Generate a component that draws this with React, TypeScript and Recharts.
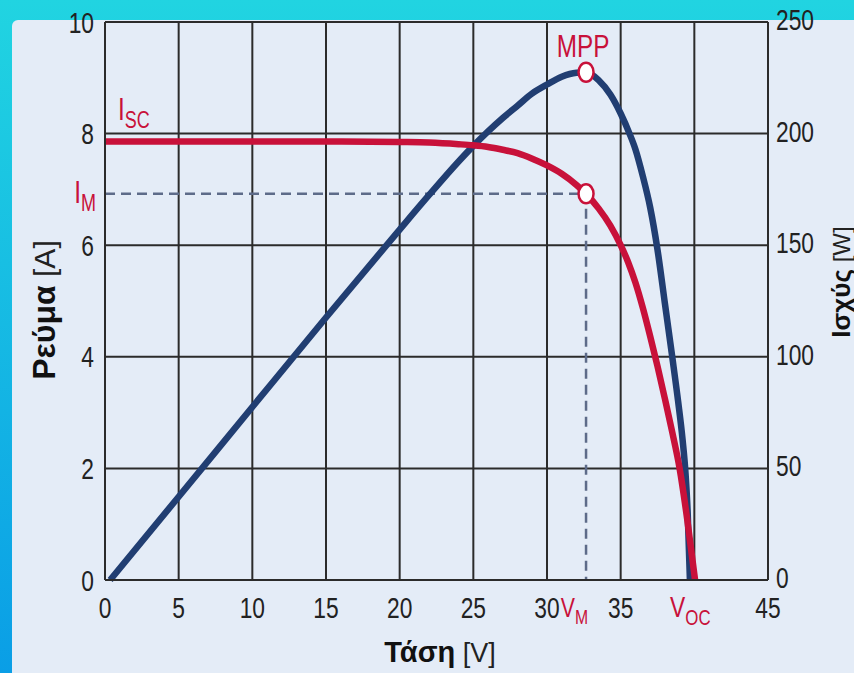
import { LineChart, Line, XAxis, YAxis, CartesianGrid, ReferenceDot } from "recharts";

// I-V curve (voltage in V, current in A)
const IV_VOLTS = [0, 5, 10, 15, 20, 22, 24, 25, 26, 27, 28, 29, 30, 31, 32, 32.65, 33.5, 34.3, 35, 35.5, 36, 36.5, 37, 37.5, 38, 38.5, 39, 39.5, 40.05];
const IV_AMPS = [7.86, 7.86, 7.86, 7.86, 7.85, 7.84, 7.81, 7.79, 7.76, 7.71, 7.65, 7.55, 7.43, 7.28, 7.08, 6.92, 6.66, 6.35, 6.0, 5.7, 5.33, 4.88, 4.37, 3.83, 3.25, 2.65, 2.0, 1.12, 0];

// P-V curve (voltage in V, power in W)
const PV_VOLTS = [0.35, 5, 10, 15, 20, 22, 24, 25, 26, 27, 28, 29, 30, 31, 32, 32.65, 33.5, 34.3, 35, 35.6, 36, 36.5, 37, 37.5, 38, 38.5, 38.9, 39.2, 39.4, 39.55, 39.7];
const PV_WATTS = [0, 37.3, 77.5, 117.6, 157, 172.5, 187.5, 194.5, 201, 207, 212.5, 218, 222, 225.5, 227.3, 227.5, 224, 217.5, 209, 200, 193, 181, 167, 148, 124, 100, 80, 63, 48, 30, 0];

const X_TICKS = [0, 5, 10, 15, 20, 25, 30, 35, 40, 45];
const X_HIDDEN = [40];
const I_TICKS = [0, 2, 4, 6, 8, 10];
const P_TICKS = [0, 50, 100, 150, 200, 250];

const V_MPP = 32.65;
const I_MPP = 6.92;
const P_MPP = 227.5;
const I_SC = 7.86;
const V_OC = 40.05;

const ivData = IV_VOLTS.map((v, k) => ({ v, i: IV_AMPS[k] }));
const pvData = PV_VOLTS.map((v, k) => ({ v, p: PV_WATTS[k] }));
const guideData = [
  { v: 0, i: I_MPP },
  { v: V_MPP, i: I_MPP },
  { v: V_MPP, i: 0 },
];

const RED = "#c8113a";
const NAVY = "#213e72";
const DASH = "#5d6b89";
const GRID = "#2b2b2b";
const SANS = "'Liberation Sans', Arial, sans-serif";
const SQUEEZE = 0.76;

// condensed-looking text: Liberation Sans squeezed horizontally
function Narrow(props: any) {
  const { x, y, anchor = "start", size = 30, fill = "#222", children } = props;
  return (
    <g transform={`translate(${x} ${y}) scale(${SQUEEZE} 1)`}>
      <text x={0} y={0} textAnchor={anchor} fontFamily={SANS} fontSize={size} fill={fill}>
        {children}
      </text>
    </g>
  );
}

const xTick = (p: any) =>
  X_HIDDEN.includes(p.payload.value) ? (
    <g />
  ) : (
    <Narrow x={p.x} y={p.y + 21} anchor="middle">
      {p.payload.value}
    </Narrow>
  );

const leftTick = (p: any) => (
  <Narrow x={p.x} y={p.y + 10.5} anchor="end">
    {p.payload.value}
  </Narrow>
);

const rightTick = (p: any) => (
  <Narrow x={p.x} y={p.y + 8} anchor="start">
    {p.payload.value}
  </Narrow>
);

function SubText(props: any) {
  const { viewBox, main, sub, dx = 0, dy = 0, anchor = "start", size = 32 } = props;
  const x = viewBox.x + (viewBox.width || 0) / 2 + dx;
  const y = viewBox.y + (viewBox.height || 0) / 2 + dy;
  return (
    <Narrow x={x} y={y} anchor={anchor} size={size} fill={RED}>
      <tspan>{main}</tspan>
      {sub ? (
        <tspan fontSize={size * 0.74} dy={size * 0.25}>
          {sub}
        </tspan>
      ) : null}
    </Narrow>
  );
}

function AxisTitle(props: any) {
  const { viewBox, bold, unit, dx, dy, rotate, size = 29 } = props;
  const x = viewBox.x + dx;
  const y = viewBox.y + dy;
  return (
    <text
      x={x}
      y={y}
      textAnchor="middle"
      fill="#111"
      fontFamily={SANS}
      transform={rotate ? `rotate(-90 ${x} ${y})` : undefined}
    >
      <tspan fontWeight="bold" fontSize={size}>
        {bold}
      </tspan>
      <tspan fontSize={size - 2} fill="#222">
        {" "}
        {unit}
      </tspan>
    </text>
  );
}

const marker = (p: any) => (
  <ellipse cx={p.cx} cy={p.cy} rx={7.5} ry={9.5} fill="#fff" stroke={RED} strokeWidth={2.5} />
);

export default function App() {
  return (
    <div
      style={{
        position: "absolute",
        left: 0,
        top: 0,
        width: 854,
        height: 673,
        background: "linear-gradient(to bottom, #21d4e1, #0a9ee6)",
        overflow: "hidden",
      }}
    >
      <div
        style={{
          position: "absolute",
          left: 12,
          top: 20,
          width: 842,
          height: 653,
          background: "#e4ecf7",
          borderTopLeftRadius: 6,
        }}
      />
      <div style={{ position: "absolute", left: 0, top: 0 }}>
        <LineChart width={854} height={673} margin={{ top: 22, right: 0, bottom: 0, left: 0 }}>
          <CartesianGrid yAxisId="left" stroke={GRID} strokeWidth={2} />
          <XAxis
            dataKey="v"
            type="number"
            domain={[0, 45]}
            ticks={X_TICKS}
            interval={0}
            height={93}
            tickLine={false}
            tickSize={6}
            tickMargin={11}
            axisLine={{ stroke: GRID, strokeWidth: 2 }}
            tick={xTick}
            allowDataOverflow
            label={<AxisTitle bold="Τάση" unit="[V]" dx={335} dy={82} />}
          />
          <YAxis
            yAxisId="left"
            type="number"
            domain={[0, 10]}
            ticks={I_TICKS}
            interval={0}
            width={105}
            tickLine={false}
            tickSize={6}
            tickMargin={5}
            axisLine={{ stroke: GRID, strokeWidth: 2 }}
            tick={leftTick}
            label={<AxisTitle bold="Ρεύμα" unit="[A]" dx={55} dy={288} rotate size={32} />}
          />
          <YAxis
            yAxisId="right"
            orientation="right"
            type="number"
            domain={[0, 250]}
            ticks={P_TICKS}
            interval={0}
            width={86}
            tickLine={false}
            tickSize={6}
            tickMargin={2}
            axisLine={{ stroke: GRID, strokeWidth: 2 }}
            tick={rightTick}
            label={<AxisTitle bold="Ισχύς" unit="[W]" dx={82} dy={260} rotate size={26} />}
          />
          <Line
            data={guideData}
            yAxisId="left"
            dataKey="i"
            type="linear"
            stroke={DASH}
            strokeWidth={2.5}
            strokeDasharray="10 6"
            dot={false}
            isAnimationActive={false}
          />
          <Line
            data={pvData}
            yAxisId="right"
            dataKey="p"
            type="monotone"
            stroke={NAVY}
            strokeWidth={6.5}
            dot={false}
            isAnimationActive={false}
          />
          <Line
            data={ivData}
            yAxisId="left"
            dataKey="i"
            type="monotone"
            stroke={RED}
            strokeWidth={6.5}
            dot={false}
            isAnimationActive={false}
          />
          <ReferenceDot
            yAxisId="left"
            x={0}
            y={I_SC}
            r={0}
            label={<SubText main="I" sub="SC" dx={13} dy={-21} />}
          />
          <ReferenceDot
            yAxisId="left"
            x={0}
            y={I_MPP}
            r={0}
            label={<SubText main="I" sub="M" anchor="end" dx={-9} dy={9} />}
          />
          <ReferenceDot
            yAxisId="left"
            x={V_MPP}
            y={0}
            r={0}
            label={<SubText main="V" sub="M" anchor="end" dx={2} dy={37} size={28} />}
          />
          <ReferenceDot
            yAxisId="left"
            x={V_OC}
            y={0}
            r={0}
            label={<SubText main="V" sub="OC" dx={-25} dy={37} size={30} />}
          />
          <ReferenceDot yAxisId="left" x={V_MPP} y={I_MPP} r={8} shape={marker} />
          <ReferenceDot
            yAxisId="right"
            x={V_MPP}
            y={P_MPP}
            r={8}
            shape={marker}
            label={<SubText main="MPP" anchor="middle" dx={-3} dy={-15} />}
          />
        </LineChart>
      </div>
    </div>
  );
}
